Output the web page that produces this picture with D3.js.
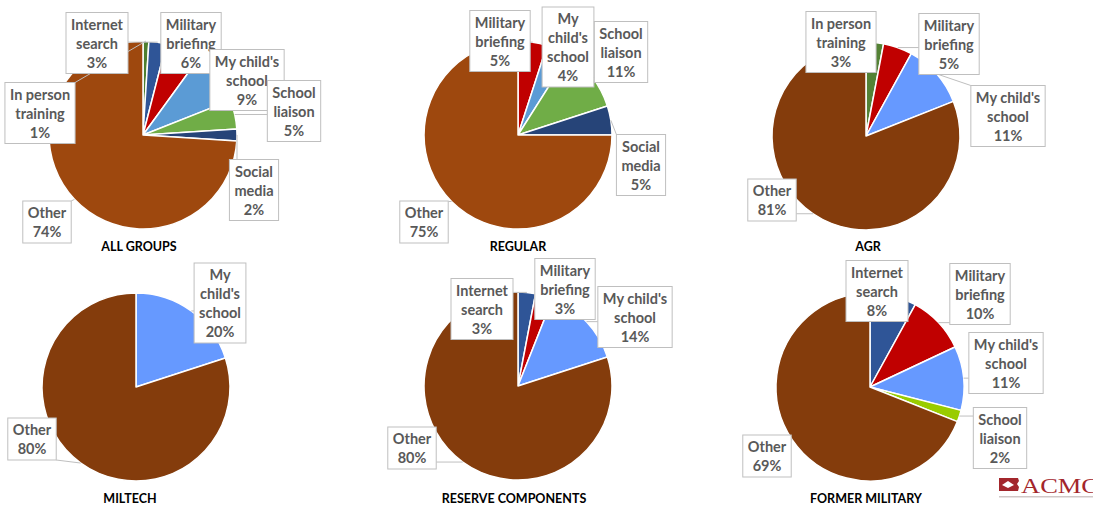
<!DOCTYPE html>
<html>
<head>
<meta charset="utf-8">
<script src="https://cdn.jsdelivr.net/npm/d3@7"></script>
<style>
  body { margin: 0; background: #fff; }
  svg { display: block; }
  .lbl text { font-family: Lato, 'Noto Sans', sans-serif; font-weight: bold; font-size: 14.5px; fill: #595959; }
  .lbl rect { fill: #fff; stroke: #bfbfbf; stroke-width: 1; }
  .leader { stroke: #bfbfbf; stroke-width: 1; fill: none; }
  .title { font-family: Lato, 'Noto Sans', sans-serif; font-weight: bold; font-size: 12.5px; fill: #000; }
</style>
</head>
<body>
<div id="figure-container"></div>
<script>
// categories, in the order the slices run clockwise from 12 o'clock
const categories = ['In person training', 'Internet search', 'Military briefing',
  "My child's school", 'School liaison', 'Social media', 'Other'];

const groupTitles = ['ALL GROUPS', 'REGULAR', 'AGR', 'MILTECH', 'RESERVE COMPONENTS', 'FORMER MILITARY'];

// percent per category (0 = not shown)
const allGroupsPct = [1, 3, 6, 9, 5, 2, 74];
const regularPct   = [0, 0, 5, 4, 11, 5, 75];
const agrPct       = [3, 0, 5, 11, 0, 0, 81];
const miltechPct   = [0, 0, 0, 20, 0, 0, 80];
const reservePct   = [0, 3, 3, 14, 0, 0, 80];
const formerPct    = [0, 8, 10, 11, 2, 0, 69];

const groupValues = [allGroupsPct, regularPct, agrPct, miltechPct, reservePct, formerPct];

// how each category label wraps
const labelLines = {
  'In person training': ['In person', 'training'],
  'Internet search': ['Internet', 'search'],
  'Military briefing': ['Military', 'briefing'],
  "My child's school": ["My child's", 'school'],
  'School liaison': ['School', 'liaison'],
  'Social media': ['Social', 'media'],
  'Other': ['Other']
};
const narrowLines = { "My child's school": ['My', "child's", 'school'] };

// ---- layout / styling ----
const width = 1093, height = 506;
const radius = 94;

const oldColors = ['#4e7f2f', '#2f5597', '#c00000', '#5b9bd5', '#70ad47', '#264478', '#9e480e'];
const newColors = ['#548235', '#2f5597', '#c00000', '#6699ff', '#99cc00', '#264478', '#843c0c'];

// label box centres relative to pie centre
const panels = [
  { center: [143, 135], title: [139, 251], colors: oldColors, narrow: [],
    labels: { 'In person training': [-103, -22], 'Internet search': [-46, -92], 'Military briefing': [48, -92],
      "My child's school": [104, -55], 'School liaison': [151, -24], 'Social media': [111, 55], 'Other': [-96, 87] } },
  { center: [518, 135], title: [518, 251], colors: oldColors, narrow: ["My child's school"],
    labels: { 'Military briefing': [-18, -94], "My child's school": [50, -88], 'School liaison': [103, -83],
      'Social media': [123, 30], 'Other': [-94, 87] } },
  { center: [866, 136], title: [868, 251], colors: newColors, narrow: [],
    labels: { 'In person training': [-25, -94], 'Military briefing': [83, -92], "My child's school": [142, -20],
      'Other': [-94, 64] } },
  { center: [136, 387], title: [130, 503], colors: newColors, narrow: ["My child's school"],
    labels: { "My child's school": [84, -84], 'Other': [-104, 52] } },
  { center: [518, 386], title: [514, 503], colors: newColors, narrow: [],
    labels: { 'Internet search': [-36, -77], 'Military briefing': [47, -97], "My child's school": [117, -69],
      'Other': [-106, 62] } },
  { center: [870, 387], title: [866, 503], colors: newColors, narrow: [],
    labels: { 'Internet search': [7, -96], 'Military briefing': [110, -93], "My child's school": [136, -24],
      'School liaison': [130, 51], 'Other': [-103, 69] } }
];

const lineH = 19;
const padX = 5;

var svg = d3.select('#figure-container')
  .append('svg')
  .attr('width', width)
  .attr('height', height);

var pie = d3.pie().sort(null).value(d => d.value).startAngle(0).endAngle(2 * Math.PI);
var arc = d3.arc().innerRadius(0).outerRadius(radius);

panels.forEach((p, gi) => {
  let data = categories.map((c, i) => ({ cat: c, idx: i, value: groupValues[gi][i] }))
    .filter(d => d.value > 0);
  let arcs = pie(data);

  let g = svg.append('g')
    .attr('class', 'panel')
    .attr('transform', `translate(${p.center[0]},${p.center[1]})`);

  g.append('g')
    .selectAll('path')
    .data(arcs)
    .enter()
      .append('path')
      .attr('d', arc)
      .attr('fill', d => p.colors[d.data.idx])
      .attr('stroke', '#fff')
      .attr('stroke-width', 1.5)
      .attr('stroke-linejoin', 'round');

  let leaders = g.append('g');
  let labels = g.append('g');

  arcs.forEach(a => {
    let cat = a.data.cat;
    let pos = p.labels[cat];
    if (!pos) return;
    let lines = (p.narrow.indexOf(cat) >= 0 ? narrowLines[cat] : labelLines[cat]).concat([`${a.data.value}%`]);

    let lg = labels.append('g').attr('class', 'lbl');
    let rect = lg.append('rect');
    let maxW = 0;
    let top = pos[1] - lines.length * lineH / 2;
    lines.forEach((t, i) => {
      let txt = lg.append('text')
        .attr('x', pos[0])
        .attr('y', top + lineH * (i + 0.5))
        .attr('text-anchor', 'middle')
        .attr('dominant-baseline', 'central')
        .text(t);
      maxW = Math.max(maxW, txt.node().getComputedTextLength());
    });
    let bw = maxW + 2 * padX, bh = lines.length * lineH + 4;
    let bx = pos[0] - bw / 2, by = pos[1] - bh / 2;
    rect.attr('x', bx).attr('y', by).attr('width', bw).attr('height', bh);

    // leader from box to the slice's outer edge when the box sits off the slice
    let mid = (a.startAngle + a.endAngle) / 2;
    let ax = radius * Math.sin(mid), ay = -radius * Math.cos(mid);
    let inside = ax >= bx && ax <= bx + bw && ay >= by && ay <= by + bh;
    if (!inside) {
      let nx = Math.max(bx, Math.min(bx + bw, ax));
      let ny = Math.max(by, Math.min(by + bh, ay));
      leaders.append('line')
        .attr('class', 'leader')
        .attr('x1', nx).attr('y1', ny)
        .attr('x2', ax).attr('y2', ay);
    }
  });

  svg.append('text')
    .attr('class', 'title')
    .attr('x', p.title[0])
    .attr('y', p.title[1])
    .attr('text-anchor', 'middle')
    .text(groupTitles[gi]);
});

// logo, bottom right
let logo = svg.append('g').attr('transform', 'translate(999,478)');
logo.append('path')
  .attr('d', 'M0,0 L19,0 L20,3 L18,6 L20,9 L19,13 L0,13 Z')
  .attr('fill', '#a3262c');
logo.append('path')
  .attr('d', 'M3,7 L9,3 L15,7 L9,10 Z')
  .attr('fill', '#fff');
logo.append('text')
  .attr('x', 22)
  .attr('y', 15)
  .attr('textLength', 78)
  .attr('lengthAdjust', 'spacingAndGlyphs')
  .style('font-family', "'Liberation Serif', 'DejaVu Serif', serif")
  .style('font-size', '20px')
  .style('fill', '#a3262c')
  .text('ACMC');
logo.append('rect')
  .attr('x', 0).attr('y', 18).attr('width', 94).attr('height', 1.5)
  .attr('fill', '#d0c8c8');
</script>
</body>
</html>
